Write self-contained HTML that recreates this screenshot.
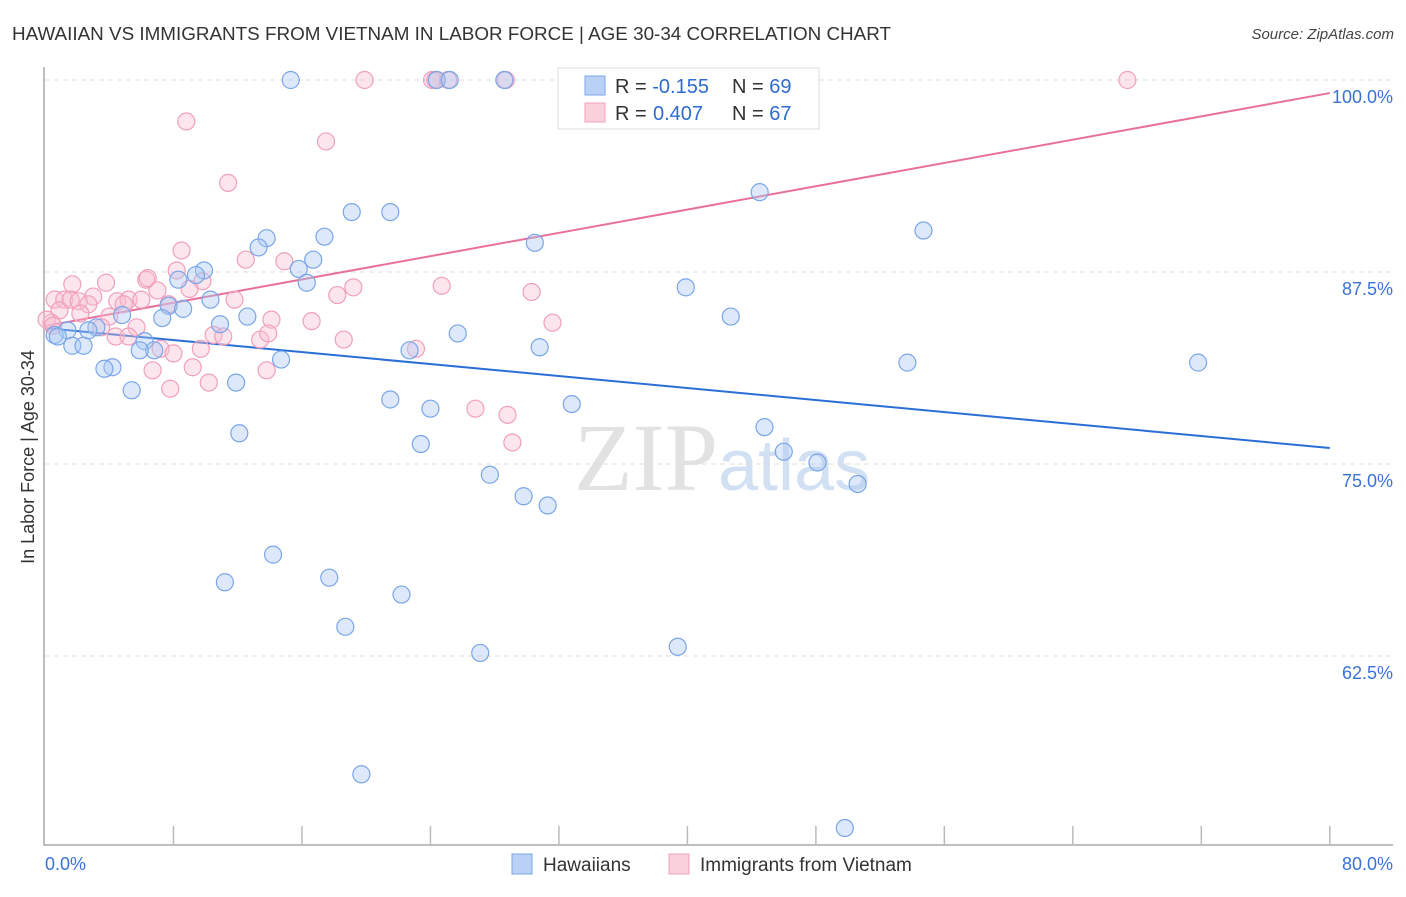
<!DOCTYPE html>
<html><head><meta charset="utf-8"><style>
body{margin:0;background:#fff;font-family:"Liberation Sans",sans-serif;}
</style></head><body>
<svg id="chart" width="1406" height="892" xmlns="http://www.w3.org/2000/svg" font-family="Liberation Sans, sans-serif">
<text x="12" y="40" font-size="18" fill="#333" textLength="879" lengthAdjust="spacingAndGlyphs">HAWAIIAN VS IMMIGRANTS FROM VIETNAM IN LABOR FORCE | AGE 30-34 CORRELATION CHART</text>
<text x="1394" y="39" font-size="15" fill="#444" font-style="italic" text-anchor="end">Source: ZipAtlas.com</text>
<text transform="translate(34,457) rotate(-90)" font-size="18" fill="#333" text-anchor="middle">In Labor Force | Age 30-34</text>
<text x="718" y="490" font-size="96" fill="#e2e2e2" text-anchor="end" font-family="Liberation Serif, serif">ZIP</text>
<text x="718" y="490" font-size="72" fill="#d2e0f3">atlas</text>
<g id="grid"></g><g id="axes"></g><g id="lines"></g><g id="pts"></g>
<g>
<rect x="558" y="68" width="261" height="61" fill="#fff" stroke="#ddd"/>
<rect x="585" y="76" width="20" height="19" fill="#b9d1f5" stroke="#7aa6e8"/>
<rect x="585" y="103" width="20" height="19" fill="#fbd0dd" stroke="#f0a0bc"/>
<text x="615" y="93" font-size="20" fill="#333">R = <tspan fill="#2f6bd0">-0.155</tspan></text>
<text x="732" y="93" font-size="20" fill="#333">N = <tspan fill="#2f6bd0">69</tspan></text>
<text x="615" y="120" font-size="20" fill="#333">R = <tspan fill="#2f6bd0" x="653">0.407</tspan></text>
<text x="732" y="120" font-size="20" fill="#333">N = <tspan fill="#2f6bd0">67</tspan></text>
</g>
<g>
<rect x="512" y="854" width="20" height="20" fill="#b9d1f5" stroke="#7aa6e8"/>
<text x="543" y="871" font-size="19" fill="#333">Hawaiians</text>
<rect x="669" y="854" width="20" height="20" fill="#fbd0dd" stroke="#f0a0bc"/>
<text x="700" y="871" font-size="19" fill="#333">Immigrants from Vietnam</text>
</g>
</svg>
<script>
const yTicks=[100,87.5,75,62.5];
const yTickLabels=["100.0%","87.5%","75.0%","62.5%"];
const xTickCount=10;
const blueX=[15.3,24.4,25.2,28.6,33.3,44.5,54.7,19.1,21.5,13.8,17.4,13.3,30.5,16.7,15.8,9.9,9.4,8.3,16.3,39.9,10.3,7.7,8.6,7.3,4.8,12.6,42.7,10.9,3.2,1.4,0.6,0.8,2.7,25.7,6.2,1.7,2.4,6.8,5.9,30.8,22.7,14.7,53.7,71.8,4.2,3.7,11.9,5.4,21.5,24.0,32.8,12.1,44.8,23.4,46.0,48.1,27.7,29.8,31.3,50.6,14.2,11.2,17.7,22.2,18.7,27.1,39.4,19.7,49.8];
const blueY=[100,100,100,100,100,92.7,90.2,91.4,91.4,89.7,89.8,89.1,89.4,88.3,87.7,87.6,87.3,87.0,86.8,86.5,85.7,85.3,85.1,84.5,84.7,84.6,84.6,84.1,83.9,83.7,83.4,83.3,83.7,83.5,83.0,82.7,82.7,82.4,82.4,82.6,82.4,81.8,81.6,81.6,81.3,81.2,80.3,79.8,79.2,78.6,78.9,77.0,77.4,76.3,75.8,75.1,74.3,72.9,72.3,73.7,69.1,67.3,67.6,66.5,64.4,62.7,63.1,54.8,51.3];
const pinkX=[19.9,24.1,24.3,25.1,28.7,43.1,67.4,8.8,17.5,11.4,8.5,12.5,14.9,6.3,6.4,1.7,3.8,8.2,9.8,19.2,24.7,30.3,9.0,7.0,0.6,1.2,1.6,3.0,2.1,4.5,5.2,6.0,11.8,18.2,7.7,4.9,2.7,0.9,2.2,4.0,14.1,16.6,31.6,5.7,3.5,4.4,10.5,11.1,13.4,13.9,18.6,0.4,0.1,5.2,7.2,8.0,9.7,23.1,9.2,6.7,13.8,7.8,10.2,26.8,28.8,29.1,0.5];
const pinkY=[100,100,100,100,100,100,100,97.3,96.0,93.3,88.9,88.3,88.2,87.0,87.1,86.7,86.8,87.6,86.9,86.5,86.6,86.2,86.4,86.3,85.7,85.7,85.7,85.9,85.6,85.6,85.7,85.7,85.7,86.0,85.4,85.4,85.4,85.0,84.8,84.6,84.4,84.3,84.2,83.9,83.9,83.3,83.4,83.3,83.1,83.5,83.1,84.2,84.4,83.3,82.5,82.2,82.5,82.5,81.3,81.1,81.1,79.9,80.3,78.6,78.2,76.4,84.0];
const blueFit=[83.85,76.04];
const pinkFit=[83.98,99.15];
const NS="http://www.w3.org/2000/svg";
const X=v=>45+v*16.06, Y=v=>80+(100-v)*15.36;
function mk(p,t,a){const e=document.createElementNS(NS,t);for(const k in a)e.setAttribute(k,a[k]);p.appendChild(e);return e;}
const grid=document.getElementById('grid'),axes=document.getElementById('axes'),lines=document.getElementById('lines'),pts=document.getElementById('pts');
yTicks.forEach((t,i)=>{
 const l=mk(grid,'line',{x1:45,x2:1393,y1:Y(t),y2:Y(t),stroke:'#ddd','stroke-dasharray':'5,4'});
 
 
 const tx=mk(grid,'text',{x:1393,y:Y(t)+23,'font-size':18,fill:'#3a73d6','text-anchor':'end'});
 tx.textContent=yTickLabels[i];
 
 
});
const ax=mk(axes,'path',{d:'M44 67V845H1393',fill:'none',stroke:'#aaa','stroke-width':1.5});


for(let i=1;i<=xTickCount;i++){const t=mk(axes,'line',{x1:X(i*8),x2:X(i*8),y1:826,y2:845,stroke:'#bbb','stroke-width':1.5});
 
 }
const x0=mk(axes,'text',{x:45,y:870,'font-size':18,fill:'#3a73d6'});x0.textContent='0.0%';


const x1=mk(axes,'text',{x:1393,y:870,'font-size':18,fill:'#3a73d6','text-anchor':'end'});x1.textContent='80.0%';


function dots(xs,ys,fill,stroke,name){xs.forEach((x,i)=>{const c=mk(pts,'circle',{cx:X(x),cy:Y(ys[i]),r:8.5,fill:fill,stroke:stroke,'stroke-width':1.2});
 
 });}
dots(pinkX,pinkY,'rgba(248,190,210,0.4)','#f0a0bc','vietnam-point');
dots(blueX,blueY,'rgba(170,200,242,0.4)','#7aa6e8','hawaiian-point');
const bl=mk(lines,'line',{x1:X(0),y1:Y(blueFit[0]),x2:X(80),y2:Y(blueFit[1]),stroke:'#2a6fd6','stroke-width':2});


const pl=mk(lines,'line',{x1:X(0),y1:Y(pinkFit[0]),x2:X(80),y2:Y(pinkFit[1]),stroke:'#e8709a','stroke-width':2});


</script>
</body></html>
